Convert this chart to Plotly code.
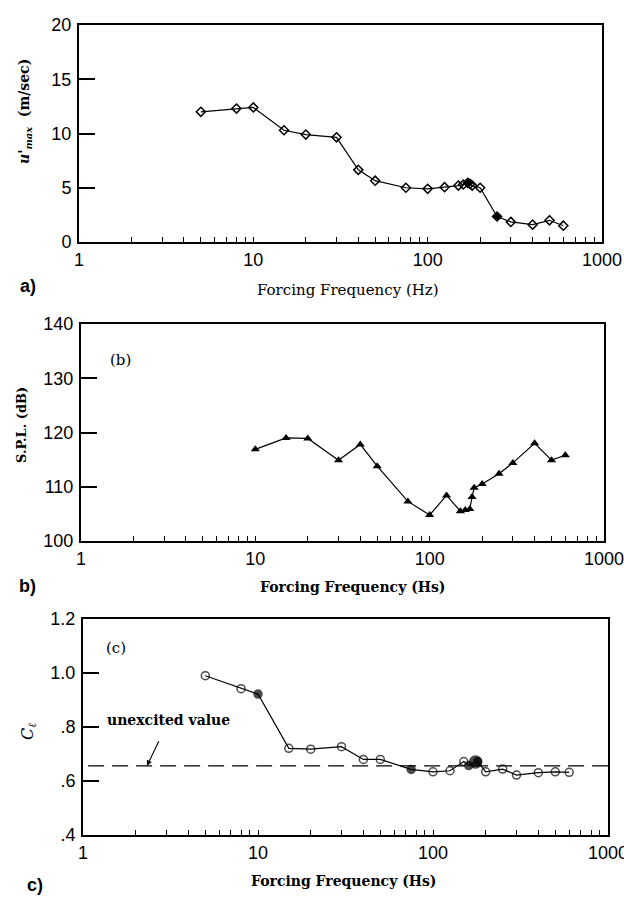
import math
import plotly.graph_objects as go

# ---- data -------------------------------------------------------------
# (a) maximum fluctuation velocity vs forcing frequency
freq_a = [5, 8, 10, 15, 20, 30, 40, 50, 75, 100, 125, 150, 160, 170, 175, 180,
          200, 250, 300, 400, 500, 600]
umax_a = [12.0, 12.3, 12.4, 10.3, 9.9, 9.65, 6.65, 5.65, 5.0, 4.9, 5.05, 5.2,
          5.3, 5.45, 5.35, 5.2, 5.0, 2.35, 1.85, 1.6, 2.0, 1.5]

# (b) sound pressure level vs forcing frequency
freq_b = [10, 15, 20, 30, 40, 50, 75, 100, 125, 150, 160, 170, 175, 180, 200,
          250, 300, 400, 500, 600]
spl_b = [116.9, 119.0, 118.9, 114.9, 117.8, 113.8, 107.3, 104.8, 108.4, 105.5,
         105.7, 105.9, 108.1, 109.8, 110.5, 112.4, 114.4, 118.0, 114.9, 115.8]

# (c) lift coefficient vs forcing frequency
freq_c = [5, 8, 10, 15, 20, 30, 40, 50, 75, 100, 125, 150, 160, 175, 180, 200,
          250, 300, 400, 500, 600]
cl_c = [0.99, 0.942, 0.922, 0.721, 0.718, 0.727, 0.680, 0.680, 0.643, 0.634,
        0.638, 0.672, 0.657, 0.670, 0.672, 0.634, 0.644, 0.622, 0.631, 0.634,
        0.632]
cl_unexcited = 0.656

x_major = [1, 10, 100, 1000]
x_major_text = ["1", "10", "100", "1000"]
x_minor = [m * 10 ** d for d in range(3) for m in range(2, 10)]

ya_ticks = [0, 5, 10, 15, 20]
yb_ticks = [100, 110, 120, 130, 140]
yc_ticks = [0.4, 0.6, 0.8, 1.0, 1.2]
yc_text = [".4", ".6", ".8", "1.0", "1.2"]

# ---- figure -----------------------------------------------------------
W, H = 624, 897
SANS = "Liberation Sans, Arial, sans-serif"
SERIF = "DejaVu Serif, Liberation Serif, serif"


def px_x(p):
    return p / W


def px_y(p):
    return 1 - p / H


fig = go.Figure()

# markers that print solid in the scan
filled_a = {170, 250}
filled_c = {10, 75, 160, 175, 180}

fig.add_trace(go.Scatter(
    x=freq_a, y=umax_a, mode="lines+markers", xaxis="x", yaxis="y",
    line=dict(color="black", width=1.2),
    marker=dict(symbol=["diamond" if f in filled_a else "diamond-open" for f in freq_a],
                size=7, color="black", line=dict(color="black", width=1.5)),
    showlegend=False))

fig.add_trace(go.Scatter(
    x=freq_b, y=spl_b, mode="lines+markers", xaxis="x2", yaxis="y2",
    line=dict(color="black", width=1.2),
    marker=dict(symbol="triangle-up", size=8, color="black"),
    showlegend=False))

fig.add_trace(go.Scatter(
    x=freq_c, y=cl_c, mode="lines+markers", xaxis="x3", yaxis="y3",
    line=dict(color="black", width=1.2),
    marker=dict(symbol=["circle" if f in filled_c else "circle-open" for f in freq_c],
                size=[12 if f == 175 else 8 for f in freq_c],
                color="black", line=dict(color="black", width=1.5)),
    showlegend=False))

# unexcited reference level
fig.add_trace(go.Scatter(
    x=[1.07, 1000], y=[cl_unexcited, cl_unexcited], mode="lines",
    xaxis="x3", yaxis="y3",
    line=dict(color="black", width=1.2, dash="16px,8px"),
    showlegend=False))


def xaxis(dom, anchor):
    return dict(type="log", range=[0, 3], domain=dom, anchor=anchor,
                automargin=False, ticklabeloverflow="allow",
                tickmode="array", tickvals=x_major, ticktext=x_major_text,
                ticks="inside", ticklen=5, tickwidth=1.2, tickcolor="black",
                minor=dict(tickmode="array", tickvals=x_minor, ticks="inside",
                           ticklen=5, tickwidth=1.2, tickcolor="black",
                           showgrid=False),
                showline=True, linecolor="black", linewidth=2, mirror=True,
                showgrid=False, zeroline=False,
                tickfont=dict(family=SANS, size=18, color="black"),
                ticklabelstandoff=0)


def yaxis(dom, anchor, rng, vals, text=None):
    d = dict(range=rng, domain=dom, anchor=anchor, automargin=False,
             tickmode="array", tickvals=vals,
             ticks="inside", ticklen=16, tickwidth=1.5, tickcolor="black",
             showline=True, linecolor="black", linewidth=2, mirror=True,
             showgrid=False, zeroline=False,
             tickfont=dict(family=SANS, size=18, color="black"),
             ticklabelstandoff=2)
    if text is not None:
        d["ticktext"] = text
    return d


fig.update_layout(
    width=W, height=H, margin=dict(l=0, r=0, t=0, b=0, autoexpand=False),
    paper_bgcolor="white", plot_bgcolor="white",
    xaxis=xaxis([px_x(79), px_x(602)], "y"),
    yaxis=yaxis([px_y(242), px_y(25)], "x", [0, 20], ya_ticks),
    xaxis2=xaxis([px_x(81), px_x(604)], "y2"),
    yaxis2=yaxis([px_y(541), px_y(324)], "x2", [100, 140], yb_ticks),
    xaxis3=xaxis([px_x(83), px_x(608)], "y3"),
    yaxis3=yaxis([px_y(835), px_y(619)], "x3", [0.4, 1.2], yc_ticks, yc_text),
)

ann = []


def paper_text(text, x, y, font, angle=0):
    ann.append(dict(text=text, x=px_x(x), y=px_y(y), xref="paper", yref="paper",
                    xanchor="center", yanchor="middle", showarrow=False,
                    textangle=angle, font=font))


# panel letters
bold_sans = dict(family=SANS, size=18, color="black", weight="bold")
paper_text("a)", 28, 286, bold_sans)
paper_text("b)", 27, 586, bold_sans)
paper_text("c)", 35, 885, bold_sans)

# x-axis titles
paper_text("Forcing Frequency (Hz)", 348, 290,
           dict(family=SERIF, size=15, color="black"))
paper_text("Forcing Frequency (Hs)", 353, 587,
           dict(family=SERIF, size=14, color="black", weight="bold"))
paper_text("Forcing Frequency (Hs)", 344, 881,
           dict(family=SERIF, size=14, color="black", weight="bold"))

# y-axis titles
paper_text("<i>u'</i><sub><i>max</i></sub>  (m/sec)", 25, 112,
           dict(family=SERIF, size=14, color="black", weight="bold"), angle=-90)
paper_text("S.P.L. (dB)", 21, 425,
           dict(family=SERIF, size=13, color="black", weight="bold"), angle=-90)
paper_text("<i>C</i><sub><i>ℓ</i></sub>", 28, 732,
           dict(family=SERIF, size=16, color="black"), angle=-90)

# in-panel labels
ann.append(dict(text="(b)", x=0.224, y=133.4, xref="x2", yref="y2",
                showarrow=False, font=dict(family=SERIF, size=15, color="black")))
ann.append(dict(text="(c)", x=0.19, y=1.093, xref="x3", yref="y3",
                showarrow=False, font=dict(family=SERIF, size=15, color="black")))
# label with its arrow pointing at the dashed reference level
ann.append(dict(text="unexcited value", x=math.log10(2.32), y=cl_unexcited,
                xref="x3", yref="y3",
                ax=math.log10(3.1), ay=0.826, axref="x3", ayref="y3",
                showarrow=True, arrowhead=2, arrowsize=1, arrowwidth=1.1,
                arrowcolor="black", startstandoff=13,
                font=dict(family=SERIF, size=14, color="black", weight="bold")))

fig.update_layout(annotations=ann)

fig.write_html("out.html")
